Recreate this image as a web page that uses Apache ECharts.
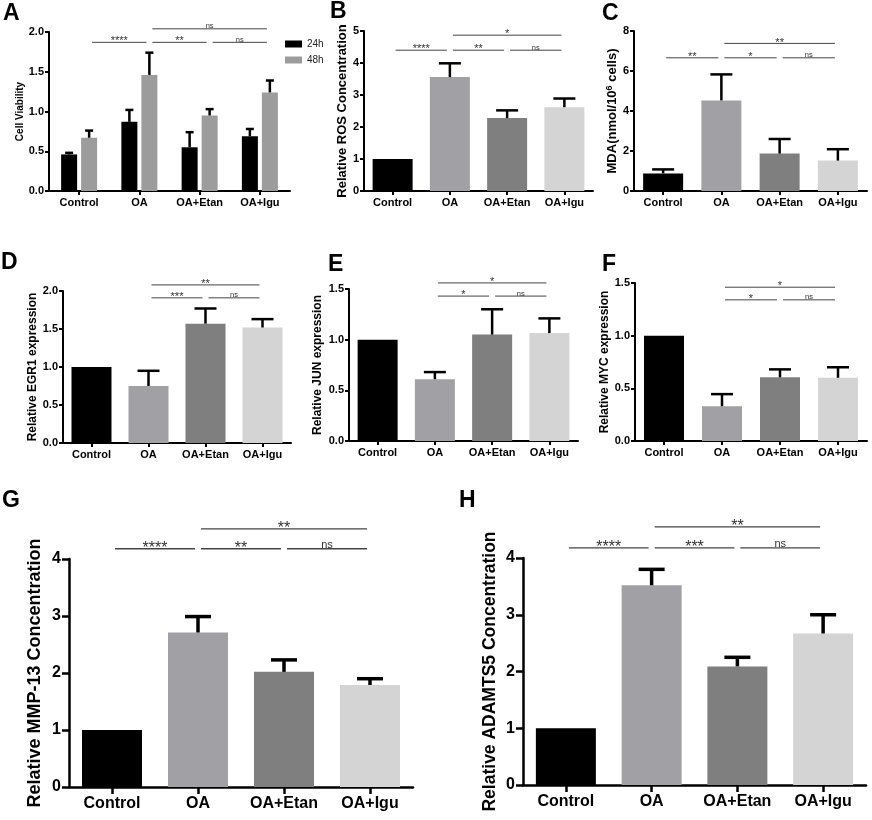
<!DOCTYPE html>
<html>
<head>
<meta charset="utf-8">
<script src="https://cdn.jsdelivr.net/npm/echarts/dist/echarts.min.js"></script>
<style>
  html, body { margin: 0; padding: 0; background: #fff; }
  #main { width: 872px; height: 820px; }
</style>
</head>
<body>
<div id="main"></div>
<script>
// categories shared by every panel
const groups = ['Control', 'OA', 'OA+Etan', 'OA+Igu'];

// A - cell viability, 24h / 48h (mean and SD)
const viab24 = [0.46, 0.87, 0.55, 0.69];
const viab24Sd = [0.02, 0.15, 0.19, 0.09];
const viab48 = [0.67, 1.46, 0.95, 1.24];
const viab48Sd = [0.09, 0.28, 0.08, 0.15];
// B - ROS
const ros = [1.0, 3.56, 2.28, 2.62];
const rosSd = [0, 0.43, 0.24, 0.27];
// C - MDA
const mda = [0.88, 4.53, 1.87, 1.52];
const mdaSd = [0.2, 1.3, 0.73, 0.57];
// D, E, F - relative expression
const egr1 = [1.0, 0.75, 1.57, 1.52];
const egr1Sd = [0, 0.2, 0.2, 0.11];
const jun = [1.0, 0.61, 1.05, 1.065];
const junSd = [0, 0.07, 0.25, 0.145];
const myc = [1.0, 0.33, 0.605, 0.60];
const mycSd = [0, 0.115, 0.075, 0.10];
// G, H - concentrations
const mmp13 = [1.0, 2.71, 2.02, 1.79];
const mmp13Sd = [0, 0.28, 0.21, 0.11];
const adamts5 = [1.0, 3.52, 2.09, 2.67];
const adamts5Sd = [0, 0.28, 0.16, 0.33];

// significance brackets (pairs of group index) and their marks
const pairs4 = [[0, 1], [1, 2], [2, 3], [1, 3]];
const pairs3 = [[1, 2], [2, 3], [1, 3]];
const sigA = ['****', '**', 'ns', 'ns'];
const sigB = ['****', '**', 'ns', '*'];
const sigC = ['**', '*', 'ns', '**'];
const sigD = ['***', 'ns', '**'];
const sigE = ['*', 'ns', '*'];
const sigF = ['*', 'ns', '*'];
const sigG = ['****', '**', 'ns', '**'];
const sigH = ['****', '***', 'ns', '**'];

const barColors = ['#000000', '#a1a1a5', '#7f7f7f', '#d4d4d4'];
const FONT = '"Liberation Sans", Arial, Helvetica, sans-serif';

// layout of each panel: grid box [left, top, width, height] in px
const panels = [
  { letter: 'A', pos: [3, 2], grid: [49, 32, 241, 159], max: 2, interval: 0.5, dec: 1,
    title: 'Cell Viability', titleSize: 10, nameGap: 21, sigY: [1.87, 2.04], sigShift: 10,
    pairs: pairs4, marks: sigA,
    bars: [{ name: '24h', vals: viab24, sd: viab24Sd, color: '#000000', shift: -10 },
           { name: '48h', vals: viab48, sd: viab48Sd, color: '#9c9c9c', shift: 10 }] },
  { letter: 'B', pos: [330, 0], grid: [364, 31, 229, 160], max: 5, interval: 1, dec: 0,
    title: 'Relative ROS Concentration', titleSize: 13, nameGap: 14, sigY: [4.40, 4.87],
    pairs: pairs4, marks: sigB, bars: [{ vals: ros, sd: rosSd }] },
  { letter: 'C', pos: [602, 2], grid: [634, 31, 233, 160], max: 8, interval: 2, dec: 0,
    title: '{t|MDA(nmol/10}{s|6}{t| cells)}', titleSize: 13, nameGap: 11, sigY: [6.66, 7.38],
    pairs: pairs4, marks: sigC, bars: [{ vals: mda, sd: mdaSd }] },
  { letter: 'D', pos: [1, 251], grid: [63, 291, 228, 152], max: 2, interval: 0.5, dec: 1,
    title: 'Relative EGR1 expression', titleSize: 12, nameGap: 22, sigY: [1.91, 2.08],
    pairs: pairs3, marks: sigD, bars: [{ vals: egr1, sd: egr1Sd }] },
  { letter: 'E', pos: [328, 253], grid: [349, 289, 229, 152], max: 1.5, interval: 0.5, dec: 1,
    title: 'Relative JUN expression', titleSize: 12, nameGap: 25, sigY: [1.43, 1.56],
    pairs: pairs3, marks: sigE, bars: [{ vals: jun, sd: junSd }] },
  { letter: 'F', pos: [602, 253], grid: [635, 283, 232, 158], max: 1.5, interval: 0.5, dec: 1,
    title: 'Relative MYC expression', titleSize: 12, nameGap: 21, sigY: [1.34, 1.46],
    pairs: pairs3, marks: sigF, bars: [{ vals: myc, sd: mycSd }] },
  { letter: 'G', pos: [2, 489], grid: [69, 559, 344, 228], max: 4, interval: 1, dec: 0, big: true,
    title: 'Relative MMP-13 Concentration', titleSize: 18, nameGap: 25, sigY: [4.18, 4.53],
    pairs: pairs4, marks: sigG, bars: [{ vals: mmp13, sd: mmp13Sd }] },
  { letter: 'H', pos: [459, 489], grid: [523, 558, 343, 227], max: 4, interval: 1, dec: 0, big: true,
    title: 'Relative ADAMTS5 Concentration', titleSize: 17.5, nameGap: 24, sigY: [4.18, 4.55],
    pairs: pairs4, marks: sigH, bars: [{ vals: adamts5, sd: adamts5Sd }] }
];

const chart = echarts.init(document.getElementById('main'), null, { renderer: 'canvas' });

const grid = [], xAxis = [], yAxis = [], series = [], graphic = [];

// error bar: upper half only, line from mean to mean+sd with a cap
function errSeries(i, vals, sd, shift, capW, lw) {
  return {
    type: 'custom', xAxisIndex: i, yAxisIndex: i, z: 3, silent: true,
    data: vals.map((v, k) => [k, v, v + sd[k]]),
    encode: { x: 0, y: [1, 2] },
    renderItem: (params, api) => {
      if (api.value(2) - api.value(1) < 1e-9) return;
      const base = api.coord([api.value(0), api.value(1)]);
      const top = api.coord([api.value(0), api.value(2)]);
      const x = base[0] + shift;
      const st = { stroke: '#000', lineWidth: lw };
      return { type: 'group', children: [
        { type: 'line', shape: { x1: x, y1: base[1], x2: x, y2: top[1] }, style: st },
        { type: 'line', shape: { x1: x - capW / 2, y1: top[1], x2: x + capW / 2, y2: top[1] }, style: st }
      ] };
    }
  };
}

// significance bracket lines with their marks
function sigSeries(i, p) {
  const big = !!p.big;
  const n = p.pairs.length;
  const ys = p.pairs.map((_, k) => (k === n - 1 ? p.sigY[1] : p.sigY[0]));
  const shift = p.sigShift || 0;
  return {
    type: 'custom', xAxisIndex: i, yAxisIndex: i, z: 4, silent: true, clip: false,
    data: p.pairs.map((pr, k) => [pr[0], pr[1], ys[k]]),
    encode: { x: [0, 1], y: 2 },
    renderItem: (params, api) => {
      const a = api.coord([api.value(0), api.value(2)]);
      const b = api.coord([api.value(1), api.value(2)]);
      const x1 = a[0] + shift + 3, x2 = b[0] + shift - 3, y = a[1];
      const mark = p.marks[params.dataIndex];
      const isNs = mark === 'ns';
      const fs = isNs ? (big ? 11 : 7.5) : (big ? 16 : 11);
      const lift = big ? 4.6 : 4;
      return { type: 'group', children: [
        { type: 'line', shape: { x1: x1, y1: y, x2: x2, y2: y },
          style: { stroke: '#444', lineWidth: big ? 1.3 : 1 } },
        { type: 'text', x: (x1 + x2) / 2, y: isNs ? y + 1.5 : y - lift + 0.28 * fs,
          style: { text: mark, fill: '#333', fontSize: fs, fontFamily: FONT,
                   align: 'center', verticalAlign: isNs ? 'bottom' : 'middle' } }
      ] };
    }
  };
}

panels.forEach((p, i) => {
  const big = !!p.big;
  const lw = big ? 2.5 : 2;
  const fs = big ? 16 : 11;
  const tick = big ? 7 : 4;
  grid.push({ left: p.grid[0], top: p.grid[1], width: p.grid[2], height: p.grid[3],
              containLabel: false, outerBoundsMode: 'none' });
  xAxis.push({
    gridIndex: i, type: 'category', data: groups,
    axisLine: { show: true, onZero: false, lineStyle: { color: '#000', width: lw } },
    axisTick: { show: true, alignWithLabel: true, length: tick, lineStyle: { color: '#000', width: lw } },
    axisLabel: { interval: 0, color: '#000', fontWeight: 'bold', fontSize: fs, fontFamily: FONT,
                 margin: big ? 9 : 6 },
    splitLine: { show: false }
  });
  const nameStyle = { color: '#000', fontWeight: 'bold', fontSize: p.titleSize, fontFamily: FONT };
  if (p.letter === 'C') {
    nameStyle.rich = {
      t: { color: '#000', fontWeight: 'bold', fontSize: p.titleSize, fontFamily: FONT },
      s: { color: '#000', fontWeight: 'bold', fontSize: 9, fontFamily: FONT, verticalAlign: 'top', padding: [0, 0, 6, 0] }
    };
  }
  yAxis.push({
    gridIndex: i, type: 'value', min: 0, max: p.max, interval: p.interval,
    name: p.title, nameLocation: 'middle', nameGap: p.nameGap, nameTextStyle: nameStyle,
    axisLine: { show: true, lineStyle: { color: '#000', width: lw } },
    axisTick: { show: true, length: tick, lineStyle: { color: '#000', width: lw } },
    axisLabel: { color: '#000', fontWeight: 'bold', fontSize: fs, fontFamily: FONT,
                 margin: tick + 1, formatter: v => v.toFixed(p.dec) },
    splitLine: { show: false }
  });

  const grouped = p.bars.length > 1;
  p.bars.forEach(b => {
    series.push({
      type: 'bar', name: b.name, xAxisIndex: i, yAxisIndex: i, z: 2, silent: true,
      barWidth: grouped ? 16 : (big ? 60 : 40), barGap: '25%',
      itemStyle: grouped ? { color: b.color } : undefined,
      data: b.vals.map((v, k) => grouped ? v : { value: v, itemStyle: { color: barColors[k] } })
    });
  });
  p.bars.forEach(b => {
    series.push(errSeries(i, b.vals, b.sd, b.shift || 0,
      grouped ? 8 : (big ? 26 : 22), big ? 3.5 : 2.5));
  });
  series.push(sigSeries(i, p));

  graphic.push({ type: 'text', left: p.pos[0], top: p.pos[1],
    style: { text: p.letter, fill: '#000', fontSize: 23, fontWeight: 'bold', fontFamily: FONT } });
});

const option = {
  backgroundColor: '#fff',
  animation: false,
  textStyle: { fontFamily: FONT },
  legend: {
    data: ['24h', '48h'], orient: 'vertical', left: 280, top: 34,
    icon: 'rect', itemWidth: 17, itemHeight: 7, itemGap: 6,
    textStyle: { fontSize: 10, color: '#222', fontFamily: FONT },
    selectedMode: false
  },
  grid: grid, xAxis: xAxis, yAxis: yAxis, series: series, graphic: graphic
};
chart.setOption(option);
</script>
</body>
</html>
